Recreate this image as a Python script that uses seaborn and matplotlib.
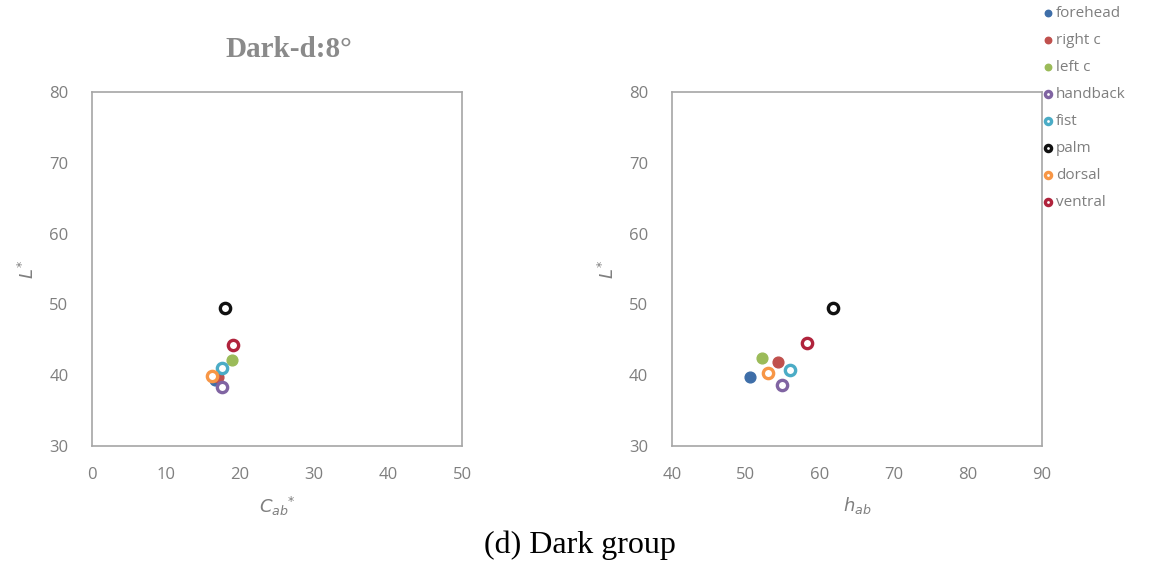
import matplotlib
matplotlib.use("Agg")
import matplotlib.pyplot as plt
import seaborn as sns
import pandas as pd

# ---- data ----
parts = ["forehead", "right c", "left c", "handback", "fist", "palm", "dorsal", "ventral"]
cab = [16.6, 17.0, 18.9, 17.6, 17.6, 18.0, 16.2, 19.1]
hab = [50.5, 54.3, 52.2, 54.9, 55.9, 61.8, 53.0, 58.2]
lstar = [39.3, 39.7, 42.1, 38.3, 41.0, 49.5, 39.9, 44.3]
lstar_h = [39.7, 41.9, 42.4, 38.6, 40.7, 49.5, 40.3, 44.5]
colors = ["#3E6EA8", "#C0504D", "#9BBB59", "#8064A2", "#4BACC6", "#111111", "#F79646", "#B0233C"]
filled = [True, True, True, False, False, False, False, False]
x_ticks_c = [0, 10, 20, 30, 40, 50]
x_ticks_h = [40, 50, 60, 70, 80, 90]
y_ticks = [30, 40, 50, 60, 70, 80]

sns.set_theme(style="white")
plt.rcParams['font.family'] = ['Open Sans', 'DejaVu Sans']

fig = plt.figure(figsize=(11.51, 5.62), dpi=100)
axL = fig.add_axes([0.080, 0.2064, 0.3215, 0.630])
axR = fig.add_axes([0.5838, 0.2064, 0.3215, 0.630])

gray = "#7F7F7F"

def draw(ax, xs, ys, xt):
    for i, p in enumerate(parts):
        df = pd.DataFrame({"x": [xs[i]], "y": [ys[i]]})
        if filled[i]:
            sns.scatterplot(data=df, x="x", y="y", ax=ax, s=60, color=colors[i],
                            edgecolor=colors[i], linewidth=1, label=p, zorder=3)
        else:
            sns.scatterplot(data=df, x="x", y="y", ax=ax, s=55, facecolor="white",
                            edgecolor=colors[i], linewidth=2.4, label=p, zorder=3)
    ax.set_xlim(xt[0], xt[-1])
    ax.set_ylim(y_ticks[0], y_ticks[-1])
    ax.set_xticks(xt)
    ax.set_yticks(y_ticks)
    ax.tick_params(axis="both", length=0, labelsize=12, colors=gray)
    ax.tick_params(axis="y", pad=17)
    ax.tick_params(axis="x", pad=15)
    for sp in ax.spines.values():
        sp.set_color("#A6A6A6")
        sp.set_linewidth(1.2)
    ax.set_ylabel("$L^{*}$", color=gray, fontsize=13, labelpad=8)
    ax.grid(False)

draw(axL, cab, lstar, x_ticks_c)
draw(axR, hab, lstar_h, x_ticks_h)
axL.set_xlabel("$C_{ab}$$^{*}$", color=gray, fontsize=13, labelpad=9)
axR.set_xlabel("$h_{ab}$", color=gray, fontsize=13, labelpad=9)

handles, labels = axL.get_legend_handles_labels()
axL.get_legend().remove()
axR.get_legend().remove()
fig.legend(handles, labels, loc="upper left", bbox_to_anchor=(1036/1151, 1.0),
           frameon=False, fontsize=11, labelcolor=gray, handletextpad=0.1,
           labelspacing=0.78, markerscale=0.6, borderaxespad=0, handlelength=0.8)

fig.text(289/1151, 1 - 57/562, "Dark-d:8°", fontfamily="Liberation Serif",
         fontweight="bold", color="#8A8A8A", fontsize=21, ha="center", va="baseline")

fig.text(580/1151, 1 - 553/562, "(d) Dark group", ha="center", va="baseline",
         fontfamily="Liberation Serif", fontsize=23, color="black")

fig.savefig("out.png", dpi=100)
